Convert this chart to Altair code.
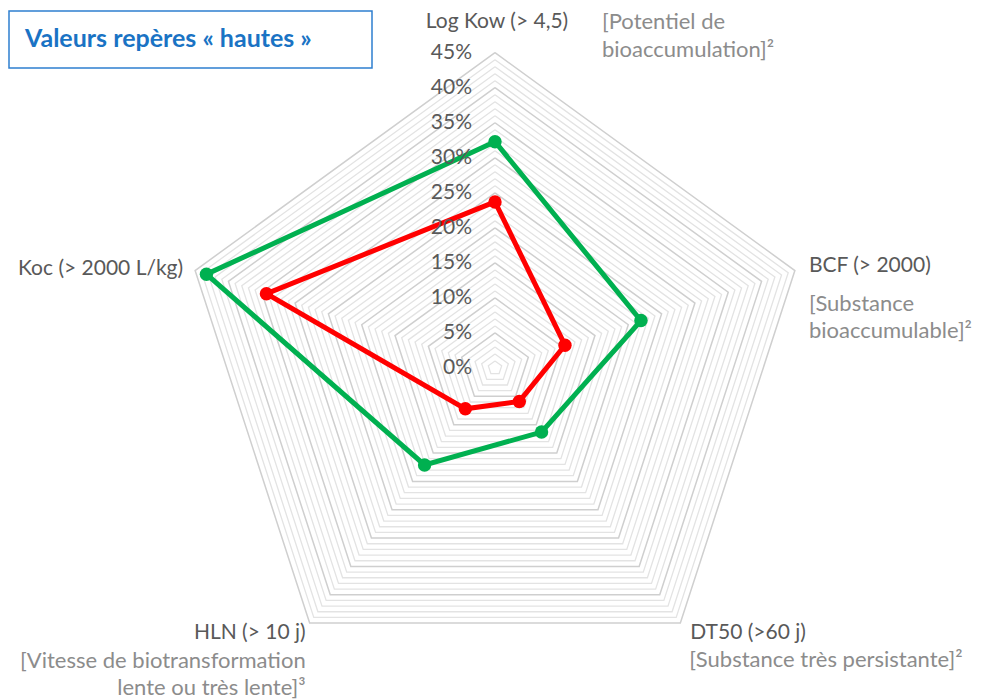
import altair as alt
import pandas as pd

# ---------------- data ----------------
axes = ["Log Kow (> 4,5)", "BCF (> 2000)", "DT50 (>60 j)", "HLN (> 10 j)", "Koc (> 2000 L/kg)"]
notes = [
    ["[Potentiel de", "bioaccumulation]²"],
    ["[Substance", "bioaccumulable]²"],
    ["[Substance très persistante]²"],
    ["[Vitesse de biotransformation", "lente ou très lente]³"],
    [],
]
series_names = ["Série 1", "Série 2"]
series_colors = ["#00B050", "#FF0000"]
green = [32.3, 21.9, 11.3, 17.1, 43.3]
red = [23.7, 10.5, 5.9, 7.2, 34.3]
tick_values = [0, 5, 10, 15, 20, 25, 30, 35, 40, 45]
tick_labels = ["0%", "5%", "10%", "15%", "20%", "25%", "30%", "35%", "40%", "45%"]
grid_levels = list(range(1, 46))
max_value = 45
title_text = "Valeurs repères « hautes »"

# ---------------- tables ----------------
N = len(axes)
rows = []
for name, col, vals in zip(series_names, series_colors, [green, red]):
    for k in range(N + 1):
        rows.append({"serie": name, "col": col, "i": k % N, "k": k, "v": vals[k % N]})
series_df = pd.DataFrame(rows)

grid_rows = []
for lvl in grid_levels:
    major = (lvl % 5 == 0)
    for k in range(N + 1):
        grid_rows.append({"lvl": lvl, "i": k % N, "k": k, "v": lvl, "major": major})
grid_df = pd.DataFrame(grid_rows)
minor_df = grid_df[~grid_df["major"]]
major_df = grid_df[grid_df["major"]]

ticks_df = pd.DataFrame({"v": tick_values, "lab": tick_labels, "i": [0] * len(tick_values)})

# ---------------- scales ----------------
k_px = 7.007  # px per percent
cx, cy = 487, 360
W, H = 966, 692
xscale = alt.Scale(domain=[-cx / k_px, (W - cx) / k_px], nice=False, zero=False)
yscale = alt.Scale(domain=[-(H - cy) / k_px, cy / k_px], nice=False, zero=False)

ang = "(PI/2 - datum.i*2*PI/%d)" % N
X = alt.X("x:Q", scale=xscale, axis=None)
Y = alt.Y("y:Q", scale=yscale, axis=None)


def polar(ch):
    return ch.transform_calculate(
        x="datum.v*cos(%s)" % ang, y="datum.v*sin(%s)" % ang
    )


FONT = "Lato"
DARK = "#595959"
LIGHT = "#8C8C8C"

minor = polar(alt.Chart(minor_df).mark_line(strokeWidth=1.3, color="#E3E3E3")).encode(
    x=X, y=Y, detail="lvl:N", order="k:Q")
major = polar(alt.Chart(major_df).mark_line(strokeWidth=1.5, color="#CFCFCF")).encode(
    x=X, y=Y, detail="lvl:N", order="k:Q")

lines = polar(alt.Chart(series_df).mark_line(strokeWidth=5)).encode(
    x=X, y=Y, detail="serie:N", order="k:Q", color=alt.Color("col:N", scale=None))
points = polar(alt.Chart(series_df[series_df["k"] < N]).mark_point(
    filled=True, size=180, opacity=1)).encode(
    x=X, y=Y, detail="serie:N", color=alt.Color("col:N", scale=None))

ticks = polar(alt.Chart(ticks_df).mark_text(
    align="right", baseline="middle", dx=-23, fontSize=21, font=FONT, color=DARK)).encode(
    x=X, y=Y, text="lab:N")


def label(i, text, align, dx, dy, color, size):
    df = pd.DataFrame({"i": [i], "v": [max_value], "t": [text]})
    return polar(alt.Chart(df).mark_text(
        align=align, baseline="middle", dx=dx, dy=dy, fontSize=size, font=FONT, color=color)).encode(
        x=X, y=Y, text="t:N")


TS, NS = 21, 22
labels = [
    label(0, axes[0], "center", 2, -31, DARK, TS),
    label(0, notes[0][0], "left", 107, -31, LIGHT, NS),
    label(0, notes[0][1], "left", 107, -3, LIGHT, NS),
    label(1, axes[1], "left", 14, -5, DARK, TS),
    label(1, notes[1][0], "left", 14, 33, LIGHT, NS),
    label(1, notes[1][1], "left", 14, 60, LIGHT, NS),
    label(2, axes[2], "left", 10, 10, DARK, TS),
    label(2, notes[2][0], "left", 9, 37, LIGHT, NS),
    label(3, axes[3], "right", -4, 10, DARK, TS),
    label(3, notes[3][0], "right", -4, 38, LIGHT, NS),
    label(3, notes[3][1], "right", -4, 65, LIGHT, NS),
    label(4, axes[4], "right", -12, -2, DARK, TS),
]

box = alt.Chart(pd.DataFrame({"t": [title_text]})).mark_rect(
    fill="white", stroke="#2E7FD0", strokeWidth=1.5).encode(
    x=alt.value(1), x2=alt.value(364), y=alt.value(3), y2=alt.value(60))
title = alt.Chart(pd.DataFrame({"t": [title_text]})).mark_text(
    align="left", baseline="middle", fontSize=25, fontWeight="bold", font=FONT, color="#1A73C4").encode(
    x=alt.value(17), y=alt.value(31), text="t:N")

chart = alt.layer(minor, major, lines, points, ticks, *labels, box, title).properties(
    width=W, height=H, autosize=alt.AutoSizeParams(type="none"), padding=0
).configure_view(stroke=None)

chart.save("out.html", embed_options={"renderer": "svg", "actions": False})
